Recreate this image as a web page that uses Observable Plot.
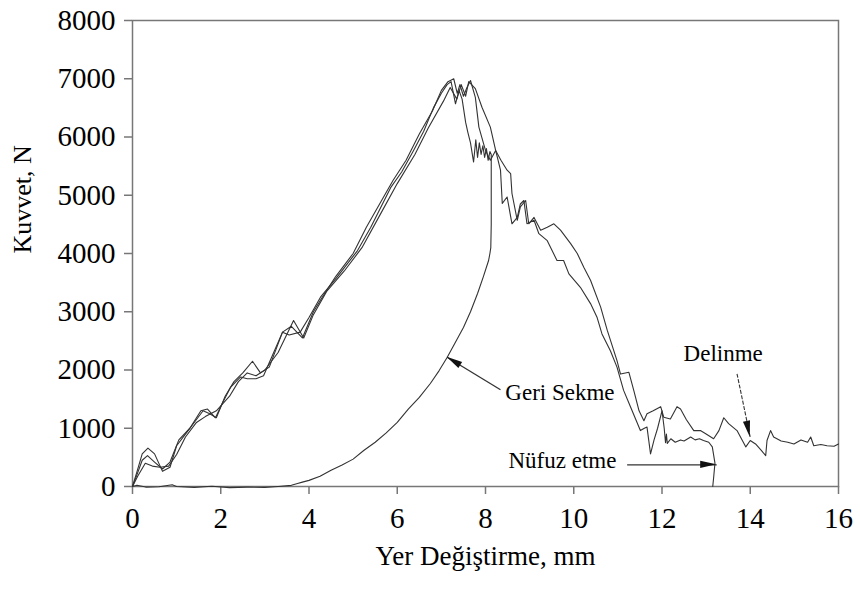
<!DOCTYPE html>
<html>
<head>
<meta charset="utf-8">
<script src="https://cdn.jsdelivr.net/npm/d3@7"></script>
<script src="https://cdn.jsdelivr.net/npm/@observablehq/plot@0.6"></script>
<style>
  html, body { margin: 0; padding: 0; background: #fff; }
  #chart { width: 860px; height: 600px; }
</style>
</head>
<body>
<div id="chart"></div>
<script>
// ---- axis ticks ----
const xTicks = [0, 2, 4, 6, 8, 10, 12, 14, 16];
const yTicks = [0, 1000, 2000, 3000, 4000, 5000, 6000, 7000, 8000];
const xLabel = "Yer Değiştirme, mm";
const yLabel = "Kuvvet, N";

// ---- Geri Sekme (rebound) curve ----
const reboundX = [0, 0.1, 0.22, 0.34, 0.5, 0.68, 0.85, 1.05, 1.3, 1.55, 1.7, 1.88, 2.05, 2.22, 2.45, 2.6, 2.8, 2.97, 3.2, 3.4, 3.55, 3.8, 4.0, 4.26, 4.64, 5.1, 5.4, 5.85, 6.1, 6.37, 6.6, 6.82, 7.0, 7.13, 7.22, 7.32, 7.4, 7.47, 7.55, 7.6, 7.66, 7.73, 7.78, 7.82, 7.86, 7.9, 7.94, 7.98, 8.02, 8.06, 8.1, 8.13, 8.13, 8.12, 8.1, 8.07, 7.95, 7.82, 7.66, 7.5, 7.3, 7.13, 6.95, 6.75, 6.5, 6.25, 6.0, 5.75, 5.5, 5.24, 5.0, 4.75, 4.5, 4.25, 4.0, 3.85, 3.74, 3.6, 3.3, 3.0, 2.6, 2.2, 1.8, 1.4, 1.0, 0.9, 0.6, 0.3, 0.1, 0];
const reboundY = [0, 200, 450, 530, 420, 300, 420, 800, 1000, 1300, 1330, 1180, 1450, 1700, 1880, 1850, 1850, 1900, 2300, 2650, 2600, 2650, 2900, 3250, 3600, 4050, 4450, 5130, 5400, 5770, 6100, 6500, 6750, 6900, 6950, 6570, 6800, 6650, 6250, 6080, 5900, 5570, 5950, 5650, 5900, 5700, 5850, 5650, 5800, 5600, 5750, 5700, 4500, 4100, 4000, 3880, 3600, 3313, 3000, 2730, 2450, 2215, 1990, 1768, 1530, 1330, 1100, 920, 760, 618, 470, 370, 280, 175, 105, 75, 50, 20, 0, -15, -10, -20, 5, -15, 0, 30, -5, -10, 20, 0];

// ---- Nüfuz etme (penetration) curve ----
const penetrationX = [0, 0.1, 0.22, 0.35, 0.5, 0.68, 0.85, 1.0, 1.2, 1.45, 1.6, 1.75, 1.9, 2.1, 2.3, 2.5, 2.72, 2.9, 3.1, 3.4, 3.6, 3.85, 4.1, 4.3, 4.6, 5.0, 5.3, 5.6, 5.9, 6.2, 6.5, 6.8, 7.0, 7.15, 7.28, 7.36, 7.42, 7.5, 7.58, 7.66, 7.77, 7.85, 8.0, 8.11, 8.23, 8.34, 8.38, 8.49, 8.6, 8.72, 8.79, 8.87, 8.94, 9.1, 9.21, 9.4, 9.62, 9.77, 9.89, 10.15, 10.38, 10.53, 10.64, 10.83, 10.98, 11.13, 11.29, 11.51, 11.6, 11.66, 11.74, 11.82, 11.9, 12.0, 12.05, 12.08, 12.1, 12.12, 12.2, 12.3, 12.42, 12.5, 12.65, 12.75, 12.85, 12.94, 13.06, 13.14, 13.2, 13.17, 13.15];
const penetrationY = [0, 250, 560, 660, 560, 260, 330, 700, 900, 1150, 1300, 1250, 1180, 1550, 1800, 1950, 2150, 1950, 2050, 2650, 2750, 2550, 3000, 3250, 3600, 4000, 4450, 4850, 5250, 5600, 6050, 6450, 6800, 6950, 7000, 6750, 6900, 6700, 6850, 6970, 6680, 6170, 5770, 5600, 5770, 5430, 4860, 4970, 4510, 4620, 4850, 4910, 4510, 4570, 4340, 4220, 3880, 3880, 3650, 3420, 3140, 2900, 2620, 2330, 2050, 1650, 1360, 960, 1000, 1020, 560, 800, 1000, 1300, 1000, 750, 900, 740, 820, 760, 800, 780, 850, 800, 820, 790, 760, 680, 400, 150, 0];

// ---- Delinme (perforation) curve ----
const perforationX = [0, 0.12, 0.29, 0.45, 0.62, 0.82, 1.0, 1.2, 1.45, 1.65, 1.9, 2.2, 2.4, 2.6, 2.8, 3.0, 3.3, 3.65, 3.88, 4.1, 4.4, 4.8, 5.2, 5.6, 6.0, 6.4, 6.7, 7.05, 7.2, 7.35, 7.45, 7.55, 7.62, 7.77, 7.92, 8.11, 8.23, 8.35, 8.49, 8.57, 8.6, 8.72, 8.79, 8.91, 8.98, 9.1, 9.25, 9.4, 9.55, 9.7, 9.93, 10.08, 10.23, 10.38, 10.61, 10.76, 10.98, 11.06, 11.25, 11.36, 11.48, 11.59, 11.66, 11.8, 11.97, 12.04, 12.19, 12.34, 12.42, 12.55, 12.72, 12.87, 13.0, 13.17, 13.29, 13.4, 13.51, 13.7, 13.9, 14.0, 14.12, 14.25, 14.35, 14.38, 14.46, 14.53, 14.7, 14.85, 14.99, 15.15, 15.3, 15.37, 15.44, 15.6, 15.74, 15.9, 16.0];
const perforationY = [0, 180, 400, 350, 330, 350, 550, 850, 1100, 1200, 1300, 1550, 1800, 1950, 1900, 2000, 2300, 2850, 2550, 2950, 3350, 3700, 4100, 4650, 5200, 5700, 6150, 6620, 6850, 6650, 6900, 6700, 6950, 6830, 6510, 6170, 5770, 5600, 5430, 5370, 5030, 4570, 4800, 4910, 4510, 4620, 4400, 4450, 4510, 4400, 4170, 4000, 3760, 3540, 3080, 2680, 2160, 1930, 1960, 1650, 1300, 1130, 1250, 1300, 1370, 1190, 1160, 1370, 1330, 1150, 960, 960, 900, 820, 960, 1180, 1080, 960, 680, 790, 730, 620, 530, 790, 960, 850, 780, 760, 730, 800, 760, 850, 700, 720, 700, 690, 730];

// ---- annotations ----
const annotText = ["Geri Sekme", "Nüfuz etme", "Delinme"];
const annotTextX = [8.45, 8.52, 12.49];
const annotTextY = [1614, 446, 2283];
const arrowFromX = [8.34, 11.21, 13.70];
const arrowFromY = [1660, 372, 1935];
const arrowToX = [7.13, 13.24, 14.00];
const arrowToY = [2220, 372, 846];
const arrowDashed = [false, false, true];

// ---- build tables ----
function series(name, xs, ys) {
  return xs.map((x, i) => ({series: name, x, y: ys[i]}));
}
const curves = [
  ...series("rebound", reboundX, reboundY),
  ...series("penetration", penetrationX, penetrationY),
  ...series("perforation", perforationX, perforationY)
];
const labels = annotText.map((t, i) => ({text: t, x: annotTextX[i], y: annotTextY[i]}));
const arrows = annotText.map((t, i) => ({x1: arrowFromX[i], y1: arrowFromY[i], x2: arrowToX[i], y2: arrowToY[i], dashed: arrowDashed[i]}));

const font = "'Liberation Serif', 'Times New Roman', Times, serif";

const chart = Plot.plot({
  width: 860,
  height: 600,
  marginLeft: 132,
  marginRight: 22,
  marginTop: 20,
  marginBottom: 114,
  style: {fontFamily: font, fontSize: "29px", color: "#000", background: "#fff", overflow: "visible"},
  x: {domain: [0, 16]},
  y: {domain: [0, 8000]},
  marks: [
    Plot.axisX({ticks: xTicks, tickSize: 8, tickPadding: 13, tickFormat: d => String(d), label: null, stroke: "#777", strokeWidth: 1.5, fill: "#000", fontSize: 29}),
    Plot.axisY({ticks: yTicks, tickSize: 8, tickPadding: 9, tickFormat: d => String(d), label: null, stroke: "#777", strokeWidth: 1.5, fill: "#000", fontSize: 29}),
    Plot.frame({stroke: "#777", strokeWidth: 1.5}),
    Plot.line(curves, {x: "x", y: "y", z: "series", stroke: "#333", strokeWidth: 1.1, strokeLinejoin: "round"}),
    Plot.link(arrows.filter(d => !d.dashed), {x1: "x1", y1: "y1", x2: "x2", y2: "y2", stroke: "#333", strokeWidth: 1.3}),
    Plot.link(arrows.filter(d => d.dashed), {x1: "x1", y1: "y1", x2: "x2", y2: "y2", stroke: "#333", strokeWidth: 1.1, strokeDasharray: "4,1.5"}),
    Plot.text(labels, {x: "x", y: "y", text: "text", textAnchor: "start", lineAnchor: "middle", fontSize: 23, fill: "#000"}),
    Plot.text([xLabel], {frameAnchor: "bottom", dy: 78, fontSize: 27, fill: "#000"}),
    Plot.text([yLabel], {frameAnchor: "left", dx: -110, rotate: -90, fontSize: 26, fill: "#000"})
  ]
});

// filled arrowheads, placed through the chart's own scales
const ns = "http://www.w3.org/2000/svg";
const sx = chart.scale("x"), sy = chart.scale("y");
const gHeads = document.createElementNS(ns, "g");
arrows.forEach(a => {
  const x1 = sx.apply(a.x1), y1 = sy.apply(a.y1);
  const x2 = sx.apply(a.x2), y2 = sy.apply(a.y2);
  const ang = Math.atan2(y2 - y1, x2 - x1);
  const L = 16, W = 3.6;
  const bx = x2 - L * Math.cos(ang), by = y2 - L * Math.sin(ang);
  const px = -Math.sin(ang) * W, py = Math.cos(ang) * W;
  const poly = document.createElementNS(ns, "polygon");
  poly.setAttribute("points", `${x2},${y2} ${bx + px},${by + py} ${bx - px},${by - py}`);
  poly.setAttribute("fill", "#111");
  gHeads.appendChild(poly);
});
chart.appendChild(gHeads);

document.getElementById("chart").appendChild(chart);
</script>
</body>
</html>
